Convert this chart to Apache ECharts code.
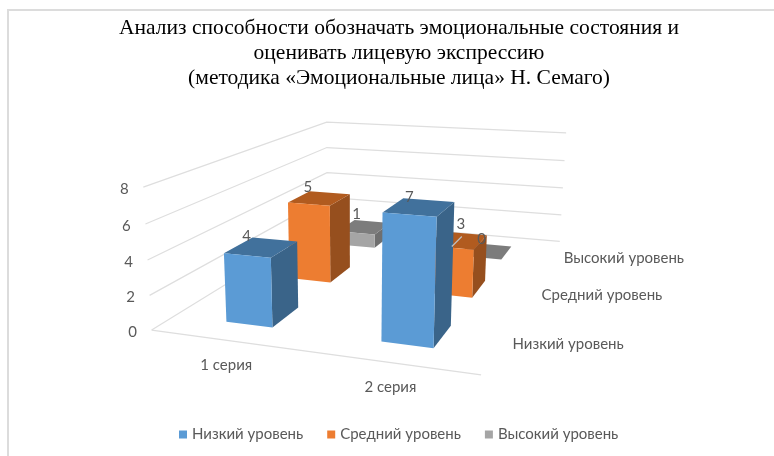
<!DOCTYPE html>
<html>
<head>
<meta charset="utf-8">
<style>html,body{margin:0;padding:0;background:#fff}#main{width:774px;height:456px}</style>
<script src="https://cdn.jsdelivr.net/npm/echarts@6/dist/echarts.min.js"></script>
</head>
<body>
<div id="main"></div>
<script>
// данные диаграммы
var categories = ['1 серия', '2 серия'];
var levels = ['Низкий уровень', 'Средний уровень', 'Высокий уровень'];
var lowValues = [4, 7];
var midValues = [5, 3];
var highValues = [1, 0];
var yTicks = [0, 2, 4, 6, 8];

var titleText = 'Анализ способности обозначать эмоциональные состояния и\nоценивать лицевую экспрессию\n(методика «Эмоциональные лица» Н. Семаго)';
var textFont = '15px Lato';
var textColor = '#595959';
var gridColor = '#dedede';

// цвета граней: фронт, верх, бок
var faces = [
  ['#5b9bd5', '#41719c', '#3a6489'],
  ['#ed7d31', '#b15b1f', '#964f1e'],
  ['#a5a5a5', '#7c7c7c', '#6f6f6f']
];

var barWidth = 0.31;   // доля ширины категории
var barDepth = 0.41;   // доля глубины ряда
var barShift = 0.005;  // сдвиг столбиков вправо

// ручной сдвиг подписей значений [уровень][категория]
var labelShift = [
  [[-6, -1], [6, -1]],
  [[-2, -4], [18, -7]],
  [[2, -6], [9, -4]]
];

// углы куба на экране: [u, w, v] -> [x, y]
var corners = [
  [0, 0, 0, 152, 330],
  [1, 0, 0, 481, 375],
  [0, 1, 0, 327, 222],
  [1, 1, 0, 560, 241],
  [0, 0, 1, 143, 187],
  [0, 1, 1, 327, 122],
  [1, 1, 1, 566, 133]
];

// перспективная матрица по углам (наименьшие квадраты)
function solveCamera(pts) {
  var n = 11, rows = [];
  pts.forEach(function (p) {
    var X = p[0], Y = p[1], Z = p[2], x = p[3], y = p[4];
    rows.push([X, Y, Z, 1, 0, 0, 0, 0, -x * X, -x * Y, -x * Z, x]);
    rows.push([0, 0, 0, 0, X, Y, Z, 1, -y * X, -y * Y, -y * Z, y]);
  });
  var A = [];
  for (var i = 0; i < n; i++) {
    A.push([]);
    for (var j = 0; j <= n; j++) {
      var s = 0;
      rows.forEach(function (r) { s += r[i] * r[j]; });
      A[i].push(s);
    }
  }
  for (var c = 0; c < n; c++) {
    var best = c;
    for (var r = c + 1; r < n; r++) if (Math.abs(A[r][c]) > Math.abs(A[best][c])) best = r;
    var t = A[c]; A[c] = A[best]; A[best] = t;
    for (var r2 = 0; r2 < n; r2++) {
      if (r2 === c) continue;
      var f = A[r2][c] / A[c][c];
      for (var k = c; k <= n; k++) A[r2][k] -= f * A[c][k];
    }
  }
  return A.map(function (row, idx) { return row[n] / row[idx]; });
}
var cam = solveCamera(corners);

function project(u, w, v) {
  var d = cam[8] * u + cam[9] * w + cam[10] * v + 1;
  return [
    (cam[0] * u + cam[1] * w + cam[2] * v + cam[3]) / d,
    (cam[4] * u + cam[5] * w + cam[6] * v + cam[7]) / d
  ];
}

function poly(points, color) {
  return { type: 'polygon', shape: { points: points }, style: { fill: color } };
}
function label(text, pos, align) {
  return {
    type: 'text', x: pos[0], y: pos[1],
    style: { text: text, font: textFont, fill: textColor, align: align || 'center', verticalAlign: 'middle' }
  };
}

// размеры столбика в долях куба, через шкалы осей
function barBox(params, api, level) {
  var cs = params.coordSys;
  var i = api.value(0), val = api.value(1);
  var base = api.coord([i, 0]), top = api.coord([i, val]);
  var band = api.size([1, 0])[0];
  var uc = (base[0] - cs.x) / cs.width + barShift;
  var hw = band * barWidth / 2 / cs.width;
  var wc = (level + 0.5) / levels.length;
  var hd = barDepth / levels.length / 2;
  return { u0: uc - hw, u1: uc + hw, w0: wc - hd, w1: wc + hd, v: (base[1] - top[1]) / cs.height };
}

function barSeries(level, values) {
  return {
    type: 'custom',
    name: levels[level],
    silent: true,
    z: 5 - level,
    itemStyle: { color: faces[level][0] },
    data: values.map(function (v, i) { return [i, v]; }),
    renderItem: function (params, api) {
      var b = barBox(params, api, level);
      var c = faces[level];
      var fl0 = project(b.u0, b.w0, 0), fr0 = project(b.u1, b.w0, 0), br0 = project(b.u1, b.w1, 0);
      var fl1 = project(b.u0, b.w0, b.v), fr1 = project(b.u1, b.w0, b.v);
      var br1 = project(b.u1, b.w1, b.v), bl1 = project(b.u0, b.w1, b.v);
      return {
        type: 'group',
        children: [
          poly([fr0, br0, br1, fr1], c[2]),
          poly([fl1, fr1, br1, bl1], c[1]),
          poly([fl0, fr0, fr1, fl1], c[0])
        ]
      };
    }
  };
}

// подписи значений поверх всех столбиков
function valueLabels(level, values) {
  return {
    type: 'custom',
    silent: true,
    z: 10,
    data: values.map(function (v, i) { return [i, v]; }),
    renderItem: function (params, api) {
      var i = api.value(0);
      var b = barBox(params, api, level);
      var p = project(b.u0, b.w1, b.v);
      var s = labelShift[level][i];
      var pos = [p[0] + s[0], p[1] + s[1]];
      var kids = [label(String(api.value(1)), pos)];
      // выноска у подписи, сдвинутой от столбика
      if (s[0] > 10) {
        kids.push({
          type: 'line',
          shape: { x1: pos[0] + 1, y1: pos[1] + 12, x2: pos[0] - 9, y2: pos[1] + 22 },
          style: { stroke: '#bfbfbf', lineWidth: 1.2 }
        });
      }
      return { type: 'group', children: kids };
    }
  };
}

var wallSeries = {
  type: 'custom',
  silent: true,
  z: 1,
  data: yTicks.map(function (v) { return [0, v]; }),
  renderItem: function (params, api) {
    var cs = params.coordSys;
    var val = api.value(1);
    var v = (api.coord([0, 0])[1] - api.coord([0, val])[1]) / cs.height;
    var kids = [{
      type: 'polyline',
      shape: { points: [project(0, 0, v), project(0, 1, v), project(1, 1, v)] },
      style: { fill: 'none', stroke: gridColor, lineWidth: 1.2 }
    }];
    var p = project(0, 0, v);
    kids.push(label(String(val), [p[0] - 19, p[1] + 2]));
    if (val === 0) {
      kids.push({
        type: 'line',
        shape: { x1: p[0], y1: p[1], x2: project(1, 0, 0)[0], y2: project(1, 0, 0)[1] },
        style: { stroke: gridColor, lineWidth: 1.2 }
      });
    }
    return { type: 'group', children: kids };
  }
};

var categorySeries = {
  type: 'custom',
  silent: true,
  z: 1,
  data: categories.map(function (c, i) { return [i, 0]; }),
  renderItem: function (params, api) {
    var cs = params.coordSys;
    var i = api.value(0);
    var u = (api.coord([i, 0])[0] - cs.x) / cs.width;
    var p = project(u, 0, 0);
    return label(categories[i], [p[0], p[1] + 24.5]);
  }
};

var depthSeries = {
  type: 'custom',
  silent: true,
  z: 1,
  data: levels.map(function (l, i) { return [0, i]; }),
  renderItem: function (params, api) {
    var i = api.value(1);
    var p = project(1, (i + 0.5) / levels.length, 0);
    return label(levels[i], [p[0] + 13, p[1] + 1], 'left');
  }
};

var option = {
  animation: false,
  backgroundColor: '#fff',
  title: {
    text: titleText,
    left: 394,
    top: 11,
    textAlign: 'center',
    textStyle: { fontFamily: 'Liberation Serif', fontSize: 21.5, fontWeight: 'normal', color: '#000', lineHeight: 25 }
  },
  legend: {
    data: levels,
    left: 174,
    top: 422,
    icon: 'rect',
    itemWidth: 8,
    itemHeight: 8,
    itemGap: 24,
    selectedMode: false,
    textStyle: { color: textColor, fontFamily: 'Lato', fontSize: 15 }
  },
  grid: { left: 0, top: 0, width: 100, height: 100 },
  xAxis: { type: 'category', data: categories, show: false },
  yAxis: { type: 'value', min: 0, max: 8, interval: 2, show: false },
  graphic: [{
    type: 'rect',
    silent: true,
    shape: { x: 8, y: 10, width: 800, height: 480 },
    style: { fill: 'none', stroke: '#dcdcdc', lineWidth: 2 }
  }],
  series: [
    wallSeries, categorySeries, depthSeries,
    barSeries(0, lowValues), barSeries(1, midValues), barSeries(2, highValues),
    valueLabels(0, lowValues), valueLabels(1, midValues), valueLabels(2, highValues)
  ]
};

var myChart = echarts.init(document.getElementById('main'));
myChart.setOption(option);
</script>
</body>
</html>
